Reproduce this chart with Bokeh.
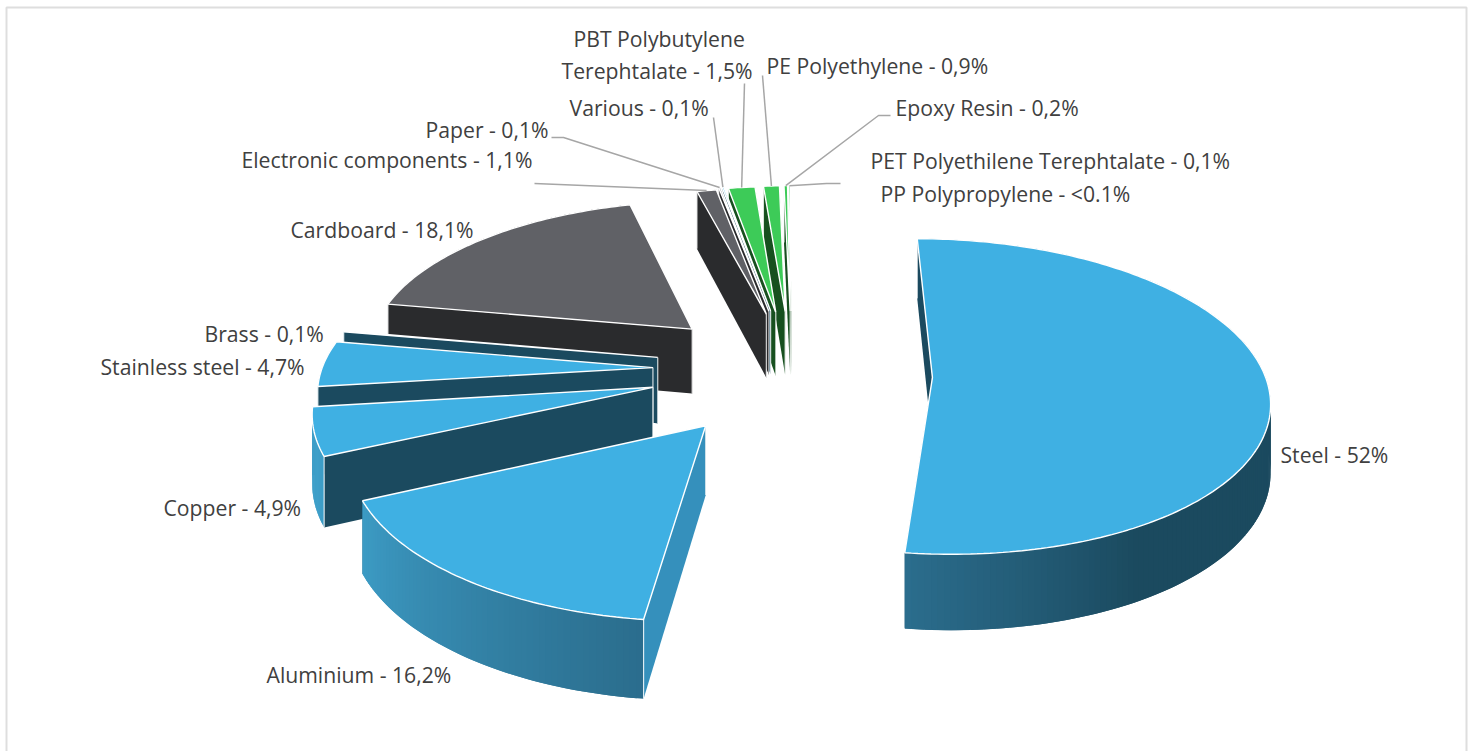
import numpy as np
from bokeh.plotting import figure
from bokeh.models import Range1d
from bokeh.core.properties import value
from bokeh.embed import file_html
from bokeh.resources import INLINE

# ---- data
categories = ["Steel", "Aluminium", "Copper", "Stainless steel", "Brass", "Cardboard",
              "Electronic components", "Paper", "Various", "PBT", "PE", "Epoxy", "PET", "PP"]
shares = [52, 16.2, 4.9, 4.7, 0.1, 18.1, 1.1, 0.1, 0.1, 1.5, 0.9, 0.2, 0.1, 0.05]
explode = [155, 147, 136, 129, 126, 122, 116, 122, 123, 119, 121, 122, 122, 122]
explode_turn = [7, -7, -5.4, -4.5, -3, -2, 5, 4.5, 5, 4.6, 5, 5.5, 5.5, 5.5]
radius_scale = [1, 1.02, 1, 1, 1, 0.99, 1, 1, 1, 1, 1, 1, 1, 1]
groups = ["blue", "blue", "blue", "blue", "blue", "grey", "grey", "grey", "blue",
          "green", "green", "green", "green", "green"]
labels = ["Steel - 52%", "Aluminium - 16,2%", "Copper - 4,9%", "Stainless steel - 4,7%",
          "Brass - 0,1%", "Cardboard - 18,1%", "Electronic components - 1,1%", "Paper - 0,1%",
          "Various - 0,1%", "PBT Polybutylene", "Terephtalate - 1,5%", "PE Polyethylene - 0,9%",
          "Epoxy Resin - 0,2%", "PET Polyethilene Terephtalate - 0,1%", "PP Polypropylene - <0.1%"]
label_x = [1280, 266, 163, 100, 204, 290, 241, 425, 569, 573, 561, 766, 895, 870, 880]
label_y = [454, 674, 507, 366, 333, 229, 159, 129, 107, 38, 70, 65, 107, 160, 193]

# ---- picture layout
W, H = 1472, 751
YH, Y0 = -920.0, 1300.0       # horizon and scale of the perspective
XV = 790.0                    # vanishing x
D = 2780.0                    # viewer distance
R = 334.0                     # pie radius
THICK = 67.0                  # pie thickness
CX, CY = 780.0, 364.0         # pie centre on the screen
TOP = {"blue": "#3fb0e3", "grey": "#606166", "green": "#3dcb58"}
SIDE = {"blue": "#1b4a5f", "grey": "#2a2b2d", "green": "#17501f"}
LINE = "#a6a6a6"
TXT = "#404040"
FRAME = "#dedede"

def to_ground(x, y):
    s = (y - YH) / Y0
    return (x - XV) / s, D * (1 / s - 1)

def project(u, v, z=0.0):
    s = D / (D + v)
    return XV + u * s, YH + Y0 * s + z * s

def hexrgb(c):
    return np.array([int(c[i:i + 2], 16) for i in (1, 3, 5)], float)

def rim_colour(group, th):
    if group != "blue":
        return SIDE[group]
    stops = [100, 150, 187, 250]
    cols = [hexrgb(c) for c in ("#1b4a5f", "#1b4a5f", "#2b6d8d", "#3e9fc9")]
    rgb = [np.interp(th, stops, [c[i] for c in cols]) for i in range(3)]
    return "#%02x%02x%02x" % tuple(int(round(a)) for a in rgb)

p = figure(width=W, height=H, x_range=Range1d(0, W), y_range=Range1d(H, 0),
           toolbar_location=None, output_backend="svg", min_border=0)
p.axis.visible = False
p.grid.visible = False
p.outline_line_color = None
p.styles = {"position": "absolute", "left": "0px", "top": "0px"}

# frame
p.line([6, 6, 1466, 1466], [H + 5, 7, 7, H + 5], line_color=FRAME, line_width=2)

total = sum(shares)
edges = np.cumsum([0] + shares) / total * 360
u0, v0 = to_ground(CX, CY)

order = [13, 12, 11, 10, 9, 8, 7, 6, 5, 4, 3, 2, 1, 0]
anchors = {}
for i in order:
    a, b = edges[i], edges[i + 1]
    m = np.radians((a + b) / 2 + explode_turn[i])
    au = u0 + explode[i] * np.sin(m)
    av = v0 + explode[i] * np.cos(m)
    ths = np.linspace(a, b, max(3, int((b - a) / 1.0) + 2))
    r = R * radius_scale[i]
    us = au + r * np.sin(np.radians(ths))
    vs = av + r * np.cos(np.radians(ths))
    g = groups[i]
    ax, ay = project(au, av)
    axb, ayb = project(au, av, THICK)
    tx, ty = project(us, vs)
    bx, by = project(us, vs, THICK)
    anchors[i] = (tx, ty)
    # far radial wall
    p.patch([ax, tx[-1], bx[-1], axb], [ay, ty[-1], by[-1], ayb], fill_color=SIDE[g], line_color=None)
    # rim, each strip overlapping the next so that no seams show
    n = len(ths)
    for k in range(n - 1):
        e = min(k + 2, n - 1)
        c = rim_colour(g, (ths[k] + ths[k + 1]) / 2)
        p.patch([tx[k], tx[e], bx[e], bx[k]], [ty[k], ty[e], by[e], by[k]],
                fill_color=c, line_color=None)
    # near radial wall
    start_col = "#3590bc" if categories[i] == "Aluminium" else SIDE[g]
    p.patch([ax, tx[0], bx[0], axb], [ay, ty[0], by[0], ayb], fill_color=start_col, line_color=None)
    p.line([tx[0], bx[0]], [ty[0], by[0]], line_color="white", line_width=1.2, line_alpha=0.8)
    p.line([ax, axb], [ay, ayb], line_color="white", line_width=1.2, line_alpha=0.8)
    # top
    p.patch(np.r_[ax, tx], np.r_[ay, ty], fill_color=TOP[g], line_color="white", line_width=1.4)

# leader lines: elbows run from the label to the rim of the slice
leaders = {6: [(534, 183)], 7: [(551, 137), (563, 137)], 8: [(713, 117)], 9: [(744, 83)],
           10: [(762, 75)], 11: [(890, 115), (878, 115)], 12: [(840, 183), (826, 183)]}
for i, pts in leaders.items():
    tx, ty = anchors[i]
    k = len(tx) // 2
    xs = [q[0] for q in pts] + [tx[k]]
    ys = [q[1] for q in pts] + [ty[k]]
    p.line(xs, ys, line_color=LINE, line_width=1.5)

p.text(label_x, label_y, text=labels, text_font=value("Open Sans"), text_font_size="21.2px",
       text_color=TXT, text_baseline="middle", text_align="left")

open("out.html", "w").write(file_html(p, INLINE))
